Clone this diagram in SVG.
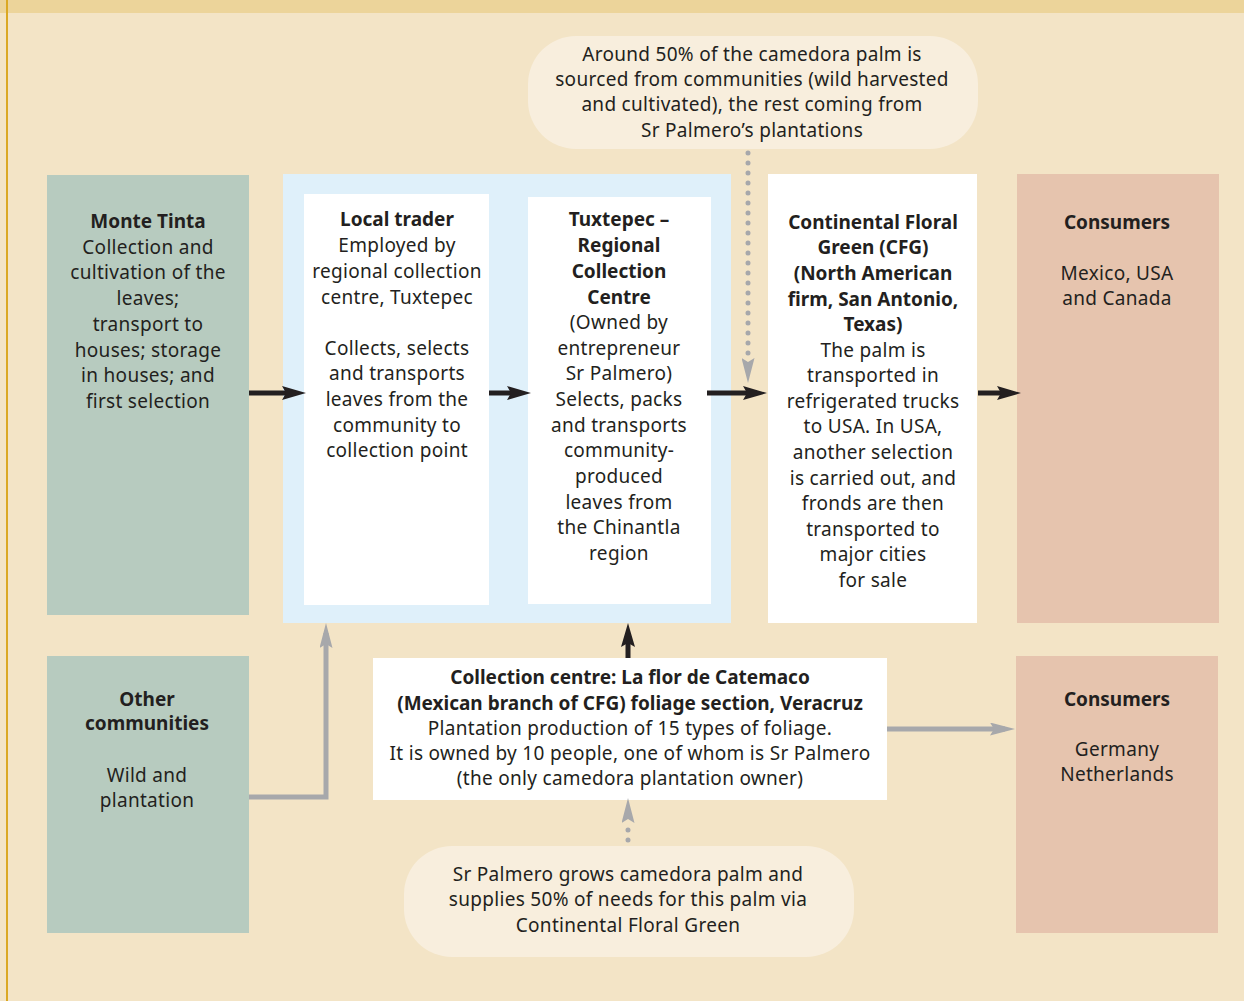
<svg xmlns="http://www.w3.org/2000/svg" width="1244" height="1001" viewBox="0 0 1244 1001">
<defs>
<style>
text{font-family:"Noto Sans","DejaVu Sans",sans-serif;font-size:19px;letter-spacing:0.3px;fill:#231f20;text-anchor:middle}
.b{font-weight:bold;letter-spacing:0}
.blk{stroke:#231f20;stroke-width:5;fill:none}
.gry{stroke:#a7a8ab;stroke-width:5;fill:none}
.dot{stroke:#a7a8ab;stroke-width:5;stroke-linecap:round;stroke-dasharray:0 10;fill:none}
</style>
<marker id="ab" viewBox="0 0 24 14" refX="14" refY="7" markerWidth="24" markerHeight="14" markerUnits="userSpaceOnUse" orient="auto"><path d="M0,0 L24,7 L0,14 L4,7 Z" fill="#231f20"/></marker>
<marker id="ag" viewBox="0 0 25 13" refX="15" refY="6.5" markerWidth="25" markerHeight="13" markerUnits="userSpaceOnUse" orient="auto"><path d="M0,0 L25,6.5 L0,13 L4,6.5 Z" fill="#a7a8ab"/></marker>
</defs>
<rect width="1244" height="1001" fill="#f3e4c6"/>
<rect width="1244" height="13" fill="#ecd49a"/>
<rect x="6" y="0" width="2" height="1001" fill="#dba823"/>

<g id="callout-top"><rect x="528" y="36" width="450" height="113" rx="48" fill="#f8eedd"/>
<text x="752" y="61">Around 50% of the camedora palm is</text>
<text x="752" y="86">sourced from communities (wild harvested</text>
<text x="752" y="111">and cultivated), the rest coming from</text>
<text x="752" y="137">Sr Palmero’s plantations</text></g>

<g id="monte-tinta"><rect x="47" y="175" width="202" height="440" fill="#b7cbbf"/>
<text x="148" y="228" class="b">Monte Tinta</text>
<text x="148" y="254">Collection and</text>
<text x="148" y="279">cultivation of the</text>
<text x="148" y="305">leaves;</text>
<text x="148" y="331">transport to</text>
<text x="148" y="357">houses; storage</text>
<text x="148" y="382">in houses; and</text>
<text x="148" y="408">first selection</text></g>

<g id="tuxtepec-group"><rect x="283" y="174" width="448" height="449" fill="#dff0fa"/></g>

<g id="local-trader"><rect x="304" y="194" width="185" height="411" fill="#fff"/>
<text x="397" y="226" class="b">Local trader</text>
<text x="397" y="252">Employed by</text>
<text x="397" y="278">regional collection</text>
<text x="397" y="304">centre, Tuxtepec</text>
<text x="397" y="355">Collects, selects</text>
<text x="397" y="380">and transports</text>
<text x="397" y="406">leaves from the</text>
<text x="397" y="432">community to</text>
<text x="397" y="457">collection point</text></g>

<g id="tuxtepec"><rect x="528" y="197" width="183" height="407" fill="#fff"/>
<text x="619" y="226" class="b">Tuxtepec –</text>
<text x="619" y="252" class="b">Regional</text>
<text x="619" y="278" class="b">Collection</text>
<text x="619" y="304" class="b">Centre</text>
<text x="619" y="329">(Owned by</text>
<text x="619" y="355">entrepreneur</text>
<text x="619" y="380">Sr Palmero)</text>
<text x="619" y="406">Selects, packs</text>
<text x="619" y="432">and transports</text>
<text x="619" y="457">community-</text>
<text x="619" y="483">produced</text>
<text x="619" y="509">leaves from</text>
<text x="619" y="534">the Chinantla</text>
<text x="619" y="560">region</text></g>

<g id="cfg"><rect x="768" y="174" width="209" height="449" fill="#fff"/>
<text x="873" y="229" class="b">Continental Floral</text>
<text x="873" y="254" class="b">Green (CFG)</text>
<text x="873" y="280" class="b">(North American</text>
<text x="873" y="306" class="b">firm, San Antonio,</text>
<text x="873" y="331" class="b">Texas)</text>
<text x="873" y="357">The palm is</text>
<text x="873" y="382">transported in</text>
<text x="873" y="408">refrigerated trucks</text>
<text x="873" y="433">to USA. In USA,</text>
<text x="873" y="459">another selection</text>
<text x="873" y="485">is carried out, and</text>
<text x="873" y="510">fronds are then</text>
<text x="873" y="536">transported to</text>
<text x="873" y="561">major cities</text>
<text x="873" y="587">for sale</text></g>

<g id="consumers-1"><rect x="1017" y="174" width="202" height="449" fill="#e6c4ae"/>
<text x="1117" y="229" class="b">Consumers</text>
<text x="1117" y="280">Mexico, USA</text>
<text x="1117" y="305">and Canada</text></g>

<g id="other-communities"><rect x="47" y="656" width="202" height="277" fill="#b7cbbf"/>
<text x="147" y="706" class="b">Other</text>
<text x="147" y="730" class="b">communities</text>
<text x="147" y="782">Wild and</text>
<text x="147" y="807">plantation</text></g>

<g id="collection-centre"><rect x="373" y="658" width="514" height="142" fill="#fff"/>
<text x="630" y="684" class="b">Collection centre: La flor de Catemaco</text>
<text x="630" y="710" class="b">(Mexican branch of CFG) foliage section, Veracruz</text>
<text x="630" y="735">Plantation production of 15 types of foliage.</text>
<text x="630" y="760">It is owned by 10 people, one of whom is Sr Palmero</text>
<text x="630" y="785">(the only camedora plantation owner)</text></g>

<g id="consumers-2"><rect x="1016" y="656" width="202" height="277" fill="#e6c4ae"/>
<text x="1117" y="706" class="b">Consumers</text>
<text x="1117" y="756">Germany</text>
<text x="1117" y="781">Netherlands</text></g>

<g id="callout-bottom"><rect x="404" y="846" width="450" height="111" rx="48" fill="#f8eedd"/>
<text x="628" y="881">Sr Palmero grows camedora palm and</text>
<text x="628" y="906">supplies 50% of needs for this palm via</text>
<text x="628" y="932">Continental Floral Green</text></g>

<g id="connectors">
<path class="blk" d="M249,393 H296" marker-end="url(#ab)"/>
<path class="blk" d="M489,393 H521" marker-end="url(#ab)"/>
<path class="blk" d="M707,393 H757" marker-end="url(#ab)"/>
<path class="blk" d="M978,393 H1011" marker-end="url(#ab)"/>
<path class="dot" d="M748,153 V356"/>
<path class="gry" d="M748,350 V373" stroke-opacity="0" marker-end="url(#ag)"/>
<path class="gry" d="M249,797 H326 V633" marker-end="url(#ag)"/>
<path class="blk" d="M628,658 V633" marker-end="url(#ab)"/>
<path class="gry" d="M887,729 H1005" marker-end="url(#ag)"/>
<path class="dot" d="M628,840 V828"/>
<path class="gry" d="M628,830 V808" stroke-opacity="0" marker-end="url(#ag)"/>
</g>
</svg>
